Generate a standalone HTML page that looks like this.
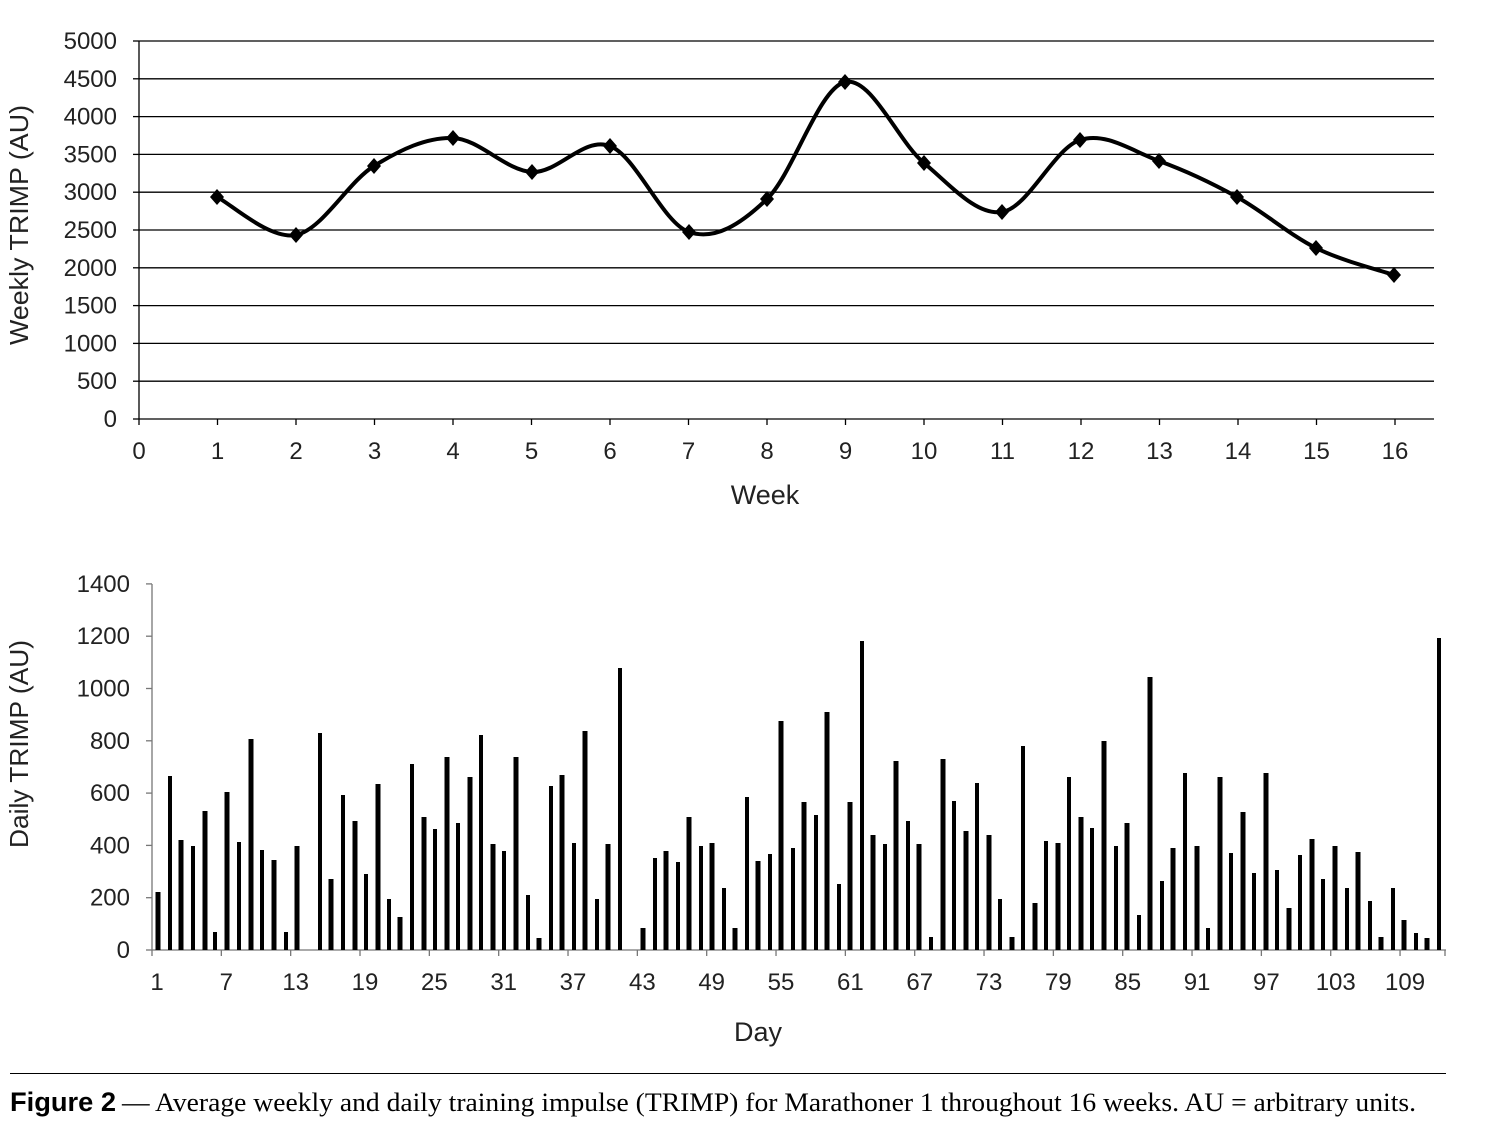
<!DOCTYPE html>
<html><head><meta charset="utf-8"><style>
html,body{margin:0;padding:0;background:#fff}
svg{display:block}
text{font-family:"Liberation Sans",Arial,sans-serif;fill:#222}
</style></head><body>
<svg id="s" width="1486" height="1136" viewBox="0 0 1486 1136" xmlns="http://www.w3.org/2000/svg">
<g id="topg"></g>
<g id="botg"></g>
<text x="28" y="225" font-size="26" text-anchor="middle" textLength="240" lengthAdjust="spacingAndGlyphs" transform="rotate(-90 28 225)">Weekly TRIMP (AU)</text>
<text x="765" y="504" font-size="27" text-anchor="middle">Week</text>
<text x="28" y="744" font-size="26" text-anchor="middle" textLength="208" lengthAdjust="spacingAndGlyphs" transform="rotate(-90 28 744)">Daily TRIMP (AU)</text>
<text x="758" y="1041" font-size="27" text-anchor="middle">Day</text>
<line x1="10" y1="1073.5" x2="1446" y2="1073.5" stroke="#000" stroke-width="1"/>
<text x="10" y="1111" font-size="27" font-weight="bold" textLength="106" lengthAdjust="spacingAndGlyphs" style="fill:#000">Figure 2</text>
<text x="122" y="1111" font-size="26" textLength="1294" lengthAdjust="spacingAndGlyphs" style="font-family:'Liberation Serif',serif;fill:#000">— Average weekly and daily training impulse (TRIMP) for Marathoner 1 throughout 16 weeks. AU = arbitrary units.</text>
</svg>
<script>
(function(){
var NS="http://www.w3.org/2000/svg";
function el(p,t,a,txt){var e=document.createElementNS(NS,t);for(var k in a)e.setAttribute(k,a[k]);if(txt!==undefined)e.textContent=txt;p.appendChild(e);return e;}
var tg=document.getElementById("topg");
for(var i=0;i<=10;i++){var y=419-i*37.8;
 el(tg,"line",{x1:139,y1:y,x2:1434,y2:y,stroke:"#000","stroke-width":1.3});
 el(tg,"line",{x1:133,y1:y,x2:139,y2:y,stroke:"#000","stroke-width":1.3});
 el(tg,"text",{x:117,y:y+8,"font-size":24,"text-anchor":"end"},String(i*500));}
el(tg,"line",{x1:139,y1:41,x2:139,y2:419,stroke:"#000","stroke-width":1.3});
for(var w=0;w<=16;w++){var x=139+w*78.5;
 el(tg,"line",{x1:x,y1:419,x2:x,y2:425,stroke:"#000","stroke-width":1.3});
 el(tg,"text",{x:x,y:459,"font-size":24,"text-anchor":"middle"},String(w));}
var P=[[217,197],[296,235],[374,166],[453,138],[532,172],[610,146],[689,232],[767,199],[845,82],[924,163],[1002,212],[1080,140],[1159,161],[1237,197],[1316,248],[1394,275]];
var d="M"+P[0][0]+","+P[0][1];
for(var i=0;i<P.length-1;i++){var p0=P[Math.max(0,i-1)],p1=P[i],p2=P[i+1],p3=P[Math.min(P.length-1,i+2)];
 var c1x=p1[0]+(p2[0]-p0[0])/6,c1y=p1[1]+(p2[1]-p0[1])/6,c2x=p2[0]-(p3[0]-p1[0])/6,c2y=p2[1]-(p3[1]-p1[1])/6;
 d+=" C"+c1x+","+c1y+" "+c2x+","+c2y+" "+p2[0]+","+p2[1];}
el(tg,"path",{d:d,fill:"none",stroke:"#000","stroke-width":4});
P.forEach(function(p){el(tg,"path",{d:"M"+p[0]+","+(p[1]-8)+" L"+(p[0]+7)+","+p[1]+" L"+p[0]+","+(p[1]+8)+" L"+(p[0]-7)+","+p[1]+"Z",fill:"#000"});});
var bg=document.getElementById("botg");
for(var i=0;i<=7;i++){var y=950-i*52.3;
 el(bg,"line",{x1:146,y1:y,x2:152,y2:y,stroke:"#777","stroke-width":1.3});
 el(bg,"text",{x:130,y:y+8,"font-size":24,"text-anchor":"end"},String(i*200));}
el(bg,"line",{x1:152,y1:584,x2:152,y2:950,stroke:"#777","stroke-width":1.3});
el(bg,"line",{x1:152,y1:950,x2:1446,y2:950,stroke:"#777","stroke-width":1.3});
var labs=[1,7,13,19,25,31,37,43,49,55,61,67,73,79,85,91,97,103,109];
labs.forEach(function(dy){var x=152+(dy-1)*11.556;
 el(bg,"line",{x1:x,y1:950,x2:x,y2:956,stroke:"#777","stroke-width":1.3});
 el(bg,"text",{x:x+5,y:990,"font-size":24,"text-anchor":"middle"},String(dy));});
el(bg,"line",{x1:1445,y1:950,x2:1445,y2:956,stroke:"#777","stroke-width":1.3});
var B=[[158,892],[170,776],[181,840],[193,846],[205,811],[215,932],[227,792],[239,842],[251,739],[262,850],[274,860],[286,932],[297,846],[320,733],[331,879],[343,795],[355,821],[366,874],[378,784],[389,899],[400,917],[412,764],[424,817],[435,829],[447,757],[458,823],[470,777],[481,735],[493,844],[504,851],[516,757],[528,895],[539,938],[551,786],[562,775],[574,843],[585,731],[597,899],[608,844],[620,668],[643,928],[655,858],[666,851],[678,862],[689,817],[701,846],[712,843],[724,888],[735,928],[747,797],[758,861],[770,854],[781,721],[793,848],[804,802],[816,815],[827,712],[839,884],[850,802],[862,641],[873,835],[885,844],[896,761],[908,821],[919,844],[931,937],[943,759],[954,801],[966,831],[977,783],[989,835],[1000,899],[1012,937],[1023,746],[1035,903],[1046,841],[1058,843],[1069,777],[1081,817],[1092,828],[1104,741],[1116,846],[1127,823],[1139,915],[1150,677],[1162,881],[1173,848],[1185,773],[1197,846],[1208,928],[1220,777],[1231,853],[1243,812],[1254,873],[1266,773],[1277,870],[1289,908],[1300,855],[1312,839],[1323,879],[1335,846],[1347,888],[1358,852],[1370,901],[1381,937],[1393,888],[1404,920],[1416,933],[1427,938],[1439,638]];
B.forEach(function(b,i){var w=(i%2?4:5);el(bg,"rect",{x:b[0]-w/2,y:b[1],width:w,height:950-b[1],fill:"#000"});});
})();
</script>
</body></html>
